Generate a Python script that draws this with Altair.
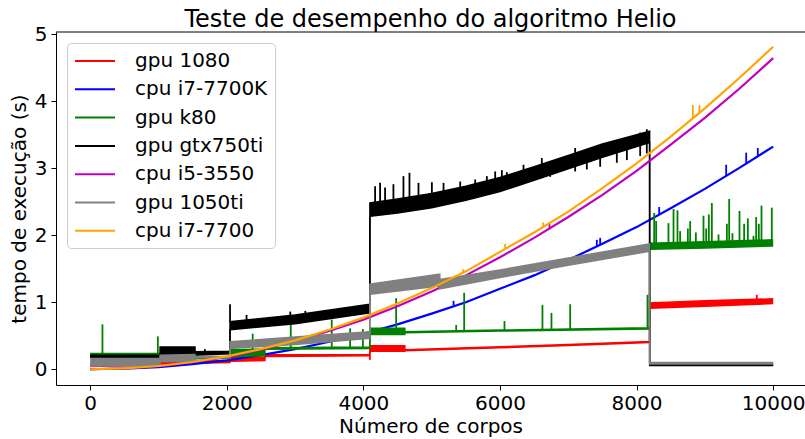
import altair as alt
import pandas as pd

# Series names (legend order) and their matplotlib-style colours
SERIES = ["gpu 1080", "cpu i7-7700K", "gpu k80", "gpu gtx750ti",
          "cpu i5-3550", "gpu 1050ti", "cpu i7-7700"]
COLORS = ["#ff0000", "#0000ff", "#008000", "#000000",
          "#bf00bf", "#808080", "#ffa500"]
X_TICKS = [0, 2000, 4000, 6000, 8000, 10000]
Y_TICKS = [0, 1, 2, 3, 4, 5]

# ---- GPU runs: noisy bands (lower / upper envelope) + isolated spikes ----
GPU1080_X = [0, 1023, 1024, 2047, 2048, 2559, 2560, 4095, 4096, 4607, 4608,
             6000, 7000, 8191, 8192, 9000, 10000]
GPU1080_LO = [0.04, 0.06, 0.08, 0.10, 0.12, 0.13, 0.19, 0.20, 0.27, 0.27, 0.275,
              0.32, 0.355, 0.40, 0.91, 0.94, 0.98]
GPU1080_HI = [0.08, 0.09, 0.11, 0.13, 0.18, 0.18, 0.215, 0.22, 0.35, 0.35, 0.29,
              0.335, 0.37, 0.415, 0.99, 1.02, 1.05]
GPU1080_SPIKE_X = [4095, 9760]
GPU1080_SPIKE_BASE = [0.20, 1.03]
GPU1080_SPIKE_TOP = [0.14, 1.11]

K80_X = [0, 1023, 1024, 1535, 1536, 2047, 2048, 2559, 2560, 4095, 4096, 4607,
         4608, 6000, 8191, 8192, 9000, 10000]
K80_LO = [0.18, 0.18, 0.15, 0.15, 0.155, 0.16, 0.19, 0.20, 0.30, 0.31, 0.52, 0.52,
          0.545, 0.57, 0.60, 1.79, 1.81, 1.84]
K80_HI = [0.235, 0.235, 0.17, 0.17, 0.175, 0.18, 0.29, 0.30, 0.32, 0.33, 0.61, 0.61,
          0.56, 0.585, 0.62, 1.88, 1.90, 1.93]
K80_SPIKE_X = [180, 991, 2380, 2937, 3537, 3806, 3993, 4480, 5359, 5476, 6066,
               6622, 6754, 7028, 8160,
               8258, 8287, 8467, 8541, 8599, 8638, 8751, 8785, 8868, 8980, 9019,
               9058, 9102, 9200, 9322, 9356, 9404, 9507, 9575, 9629, 9712, 9751,
               9790, 9829, 9980]
K80_SPIKE_BASE = [0.22, 0.22, 0.28, 0.32, 0.32, 0.33, 0.33, 0.60, 0.56, 0.56, 0.57,
                  0.58, 0.58, 0.59, 0.61,
                  1.86, 1.86, 1.86, 1.86, 1.86, 1.86, 1.86, 1.86, 1.86, 1.86, 1.87,
                  1.87, 1.87, 1.87, 1.87, 1.87, 1.87, 1.88, 1.88, 1.88, 1.88, 1.88,
                  1.88, 1.88, 1.88]
K80_SPIKE_TOP = [0.67, 0.49, 0.53, 0.68, 0.74, 0.61, 0.60, 1.06, 0.66, 1.14, 0.72,
                 0.96, 0.84, 0.97, 1.11,
                 2.33, 2.21, 2.18, 2.39, 2.37, 2.06, 2.10, 2.21, 2.04, 2.29, 2.10,
                 2.31, 2.48, 2.01, 2.17, 2.54, 2.03, 2.36, 2.17, 2.25, 1.99, 2.27,
                 2.17, 2.44, 2.41]

GTX750_X = [0, 1023, 1024, 1535, 1536, 2047, 2048, 3000, 4095, 4096, 4500, 5000,
            5500, 6000, 6500, 7000, 7500, 8191, 8192, 10000]
GTX750_LO = [0.18, 0.18, 0.21, 0.23, 0.21, 0.23, 0.59, 0.68, 0.84, 2.28, 2.33, 2.41,
             2.52, 2.65, 2.82, 2.99, 3.16, 3.38, 0.055, 0.055]
GTX750_HI = [0.21, 0.21, 0.33, 0.33, 0.26, 0.27, 0.71, 0.81, 0.97, 2.48, 2.54, 2.62,
             2.73, 2.86, 3.02, 3.19, 3.36, 3.55, 0.075, 0.075]
GTX750_SPIKE_X = [1680, 2048, 2290, 2930, 3150,
                  4172, 4245, 4318, 4440, 4587, 4675, 4807, 5003, 5174, 5418,
                  5637, 5808, 5930, 6028, 6100, 6345, 6613, 6735, 7101, 7272,
                  7467, 7711, 7858, 8053, 8150]
GTX750_SPIKE_BASE = [0.25, 0.70, 0.72, 0.78, 0.80,
                     2.45, 2.46, 2.47, 2.48, 2.50, 2.52, 2.53, 2.60, 2.62, 2.65,
                     2.68, 2.72, 2.74, 2.76, 2.77, 2.80, 2.85, 2.87, 2.95, 2.98,
                     3.02, 3.08, 3.12, 3.18, 3.22]
GTX750_SPIKE_TOP = [0.30, 0.97, 0.81, 0.86, 0.87,
                    2.73, 2.78, 2.71, 2.76, 2.88, 2.93, 2.78, 2.79, 2.78, 2.80,
                    2.83, 2.88, 2.95, 2.97, 2.94, 3.05, 3.15, 3.10, 3.30, 3.25,
                    3.33, 3.40, 3.45, 3.53, 3.58]

GTX1050_X = [0, 1023, 1024, 1535, 1536, 2047, 2048, 3000, 4095, 4096, 5119, 5120,
             6000, 7000, 8191, 8192, 10000]
GTX1050_LO = [0.05, 0.05, 0.11, 0.12, 0.17, 0.17, 0.31, 0.37, 0.46, 1.12, 1.24, 1.20,
              1.37, 1.55, 1.76, 0.08, 0.08]
GTX1050_HI = [0.16, 0.16, 0.21, 0.22, 0.19, 0.19, 0.41, 0.48, 0.56, 1.27, 1.42, 1.34,
              1.48, 1.66, 1.87, 0.10, 0.10]

# ---- CPU runs: smooth curves sampled every 500 bodies ----
CPU_X = [0, 500, 1000, 1500, 2000, 2500, 3000, 3500, 4000, 4500, 5000,
         5500, 6000, 6500, 7000, 7500, 8000, 8500, 9000, 9500, 10000]
I7K_Y = [0.0, 0.008, 0.033, 0.075, 0.133, 0.21, 0.30, 0.41, 0.53, 0.67, 0.83,
         1.00, 1.20, 1.40, 1.63, 1.87, 2.12, 2.40, 2.69, 3.00, 3.32]
I7K_SPIKE_X = [5320, 7418, 7467, 8331, 9312, 9605, 9775]
I7K_SPIKE_BASE = [0.95, 1.83, 1.85, 2.31, 2.88, 3.07, 3.18]
I7K_SPIKE_TOP = [1.02, 1.93, 1.96, 2.42, 3.05, 3.23, 3.30]

I5_Y = [0.0, 0.012, 0.047, 0.105, 0.185, 0.29, 0.42, 0.57, 0.74, 0.94, 1.16,
        1.40, 1.67, 1.96, 2.27, 2.60, 2.96, 3.35, 3.75, 4.18, 4.64]
I5_SPIKE_X = [6725]
I5_SPIKE_BASE = [2.09]
I5_SPIKE_TOP = [2.17]

I7_Y = [0.0, 0.012, 0.048, 0.108, 0.192, 0.30, 0.43, 0.59, 0.77, 0.98, 1.21,
        1.46, 1.75, 2.04, 2.35, 2.70, 3.07, 3.47, 3.89, 4.34, 4.81]
I7_SPIKE_X = [5461, 6076, 6633, 8824, 8921]
I7_SPIKE_BASE = [1.43, 1.80, 2.12, 3.74, 3.83]
I7_SPIKE_TOP = [1.49, 1.87, 2.19, 3.94, 3.94]

FONT = "DejaVu Sans"
W, H = 749, 353

x_scale = alt.Scale(domain=[-500, 10466], nice=False, zero=False)
y_scale = alt.Scale(domain=[-0.235, 5.03], nice=False, zero=False)
color_scale = alt.Scale(domain=SERIES, range=COLORS)

x_axis = alt.Axis(values=X_TICKS, format="d", title="Número de corpos",
                  grid=False, tickSize=5, labelPadding=3, titlePadding=3)
y_axis = alt.Axis(values=Y_TICKS, format="d", title="tempo de execução (s)",
                  grid=False, tickSize=5, labelPadding=4, titlePadding=5)
# legend key: a short horizontal stroke, longer than the nominal symbol size
legend = alt.Legend(title=None, orient="none", legendX=11, legendY=11,
                    symbolType="M-1,0H3", symbolSize=400, symbolStrokeWidth=2,
                    labelFontSize=20, labelFont=FONT, labelColor="#000",
                    labelOffset=39, labelLimit=400, rowPadding=7.3,
                    fillColor="white", strokeColor="#cccccc", cornerRadius=4,
                    padding=7)


def X(field="x"):
    return alt.X(f"{field}:Q", scale=x_scale, axis=x_axis)


def Y(field):
    return alt.Y(f"{field}:Q", scale=y_scale, axis=y_axis)


def spikes(name, color, sx, sb, st):
    df = pd.DataFrame({"x": sx, "base": sb, "top": st, "series": name})
    return alt.Chart(df).mark_rule(color=color, strokeWidth=1.8).encode(
        x=X(), y=Y("base"), y2="top:Q")


def gpu_layers(name, color, xs, lo, hi, sx=None, sb=None, st=None):
    df = pd.DataFrame({"x": xs, "lo": lo, "hi": hi, "series": name})
    base = alt.Chart(df)
    layers = [
        base.mark_area(color=color, opacity=1).encode(x=X(), y=Y("lo"), y2="hi:Q"),
        base.mark_line(strokeWidth=1.5).encode(
            x=X(), y=Y("lo"),
            color=alt.Color("series:N", scale=color_scale, legend=legend)),
        base.mark_line(color=color, strokeWidth=1.5).encode(x=X(), y=Y("hi")),
    ]
    if sx:
        layers.append(spikes(name, color, sx, sb, st))
    return layers


def cpu_layers(name, color, ys, sx, sb, st):
    df = pd.DataFrame({"x": CPU_X, "y": ys, "series": name})
    line = alt.Chart(df).mark_line(strokeWidth=2.2).encode(
        x=X(), y=Y("y"),
        color=alt.Color("series:N", scale=color_scale, legend=legend))
    return [line, spikes(name, color, sx, sb, st)]


layers = []
layers += gpu_layers(SERIES[0], COLORS[0], GPU1080_X, GPU1080_LO, GPU1080_HI,
                     GPU1080_SPIKE_X, GPU1080_SPIKE_BASE, GPU1080_SPIKE_TOP)
layers += cpu_layers(SERIES[1], COLORS[1], I7K_Y, I7K_SPIKE_X, I7K_SPIKE_BASE, I7K_SPIKE_TOP)
layers += gpu_layers(SERIES[2], COLORS[2], K80_X, K80_LO, K80_HI,
                     K80_SPIKE_X, K80_SPIKE_BASE, K80_SPIKE_TOP)
layers += gpu_layers(SERIES[3], COLORS[3], GTX750_X, GTX750_LO, GTX750_HI,
                     GTX750_SPIKE_X, GTX750_SPIKE_BASE, GTX750_SPIKE_TOP)
layers += cpu_layers(SERIES[4], COLORS[4], I5_Y, I5_SPIKE_X, I5_SPIKE_BASE, I5_SPIKE_TOP)
layers += gpu_layers(SERIES[5], COLORS[5], GTX1050_X, GTX1050_LO, GTX1050_HI)
layers += cpu_layers(SERIES[6], COLORS[6], I7_Y, I7_SPIKE_X, I7_SPIKE_BASE, I7_SPIKE_TOP)

# top spine of the axes box
top_spine = alt.Chart(pd.DataFrame({"k": [0]})).mark_rule(
    color="#000", strokeWidth=1).encode(
    x=alt.value(0), x2=alt.value(W + 10), y=alt.value(0))
layers.append(top_spine)

chart = alt.layer(*layers).properties(
    width=W, height=H,
    title=alt.TitleParams("Teste de desempenho do algoritmo Helio", fontSize=24,
                          font=FONT, fontWeight="normal", color="#000",
                          anchor="middle", frame="group", offset=-8),
    padding={"left": 56, "top": 32, "right": 0, "bottom": 54},
    autosize=alt.AutoSizeParams(type="none"),
).configure_view(stroke=None).configure_axis(
    labelFont=FONT, titleFont=FONT, labelFontSize=20, titleFontSize=20,
    labelColor="#000", titleColor="#000", titleFontWeight="normal",
    domainColor="#000", tickColor="#000", domainWidth=1, tickWidth=1,
)

chart.save("out.html", embed_options={"renderer": "svg", "actions": False})
